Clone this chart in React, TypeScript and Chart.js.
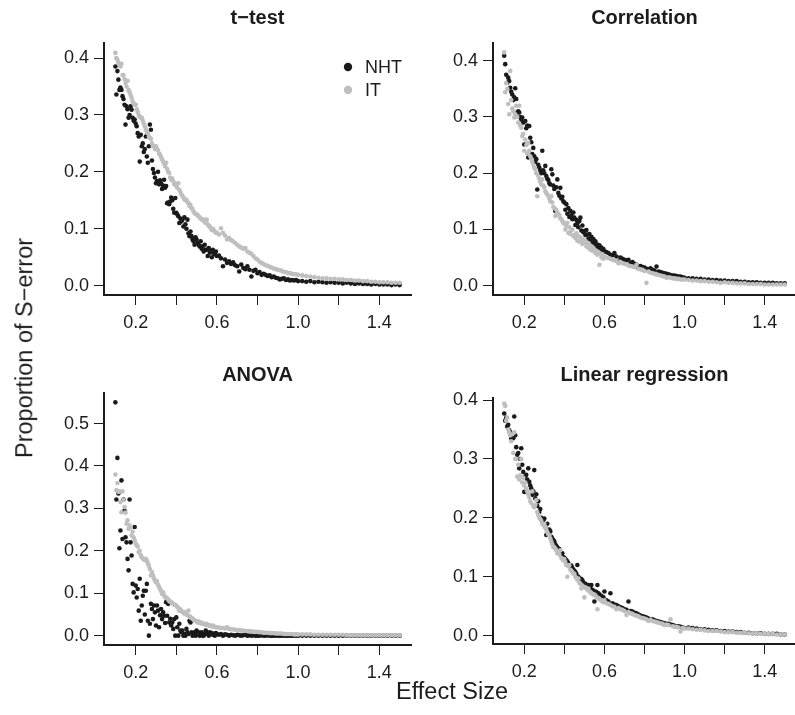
import React, { useEffect, useRef } from "react";
import { Chart, registerables } from "chart.js";

Chart.register(...registerables);

// Effect size grid (x values)
const effectSize = [
  0.1, 0.105, 0.11, 0.115, 0.12, 0.125, 0.13, 0.135, 0.14, 0.145,
  0.15, 0.155, 0.16, 0.165, 0.17, 0.175, 0.18, 0.185, 0.19, 0.195,
  0.2, 0.205, 0.21, 0.215, 0.22, 0.225, 0.23, 0.235, 0.24, 0.245,
  0.25, 0.255, 0.26, 0.265, 0.27, 0.275, 0.28, 0.285, 0.29, 0.295,
  0.3, 0.305, 0.31, 0.315, 0.32, 0.325, 0.33, 0.335, 0.34, 0.345,
  0.35, 0.355, 0.36, 0.365, 0.37, 0.375, 0.38, 0.385, 0.39, 0.395,
  0.4, 0.405, 0.41, 0.415, 0.42, 0.425, 0.43, 0.435, 0.44, 0.445,
  0.45, 0.455, 0.46, 0.465, 0.47, 0.475, 0.48, 0.485, 0.49, 0.495,
  0.5, 0.505, 0.51, 0.515, 0.52, 0.525, 0.53, 0.535, 0.54, 0.545,
  0.55, 0.555, 0.56, 0.565, 0.57, 0.575, 0.58, 0.585, 0.59, 0.595,
  0.6,
  0.61, 0.62, 0.63, 0.64, 0.65, 0.66, 0.67, 0.68, 0.69, 0.7,
  0.71, 0.72, 0.73, 0.74, 0.75, 0.76, 0.77, 0.78, 0.79, 0.8,
  0.81, 0.82, 0.83, 0.84, 0.85, 0.86, 0.87, 0.88, 0.89, 0.9,
  0.91, 0.92, 0.93, 0.94, 0.95, 0.96, 0.97, 0.98, 0.99, 1.0,
  1.02, 1.04, 1.06, 1.08, 1.1, 1.12, 1.14, 1.16, 1.18, 1.2,
  1.22, 1.24, 1.26, 1.28, 1.3, 1.32, 1.34, 1.36, 1.38, 1.4,
  1.42, 1.44, 1.46, 1.48, 1.5,
];

// t-test
const tTestNHT = [
  0.385, 0.336, 0.377, 0.362, 0.344, 0.348, 0.344, 0.333, 0.328, 0.318,
  0.283, 0.315, 0.31, 0.295, 0.3, 0.315, 0.309, 0.295, 0.29, 0.292,
  0.285, 0.28, 0.268, 0.262, 0.218, 0.265, 0.245, 0.25, 0.235, 0.24,
  0.262, 0.227, 0.216, 0.245, 0.283, 0.274, 0.22, 0.205, 0.198, 0.19,
  0.18, 0.184, 0.2, 0.178, 0.185, 0.18, 0.17, 0.176, 0.186, 0.172,
  0.175, 0.145, 0.146, 0.143, 0.148, 0.155, 0.15, 0.135, 0.128, 0.154,
  0.128, 0.125, 0.122, 0.11, 0.118, 0.113, 0.116, 0.104, 0.12, 0.108,
  0.1, 0.116, 0.092, 0.087, 0.095, 0.087, 0.081, 0.078, 0.072, 0.085,
  0.081, 0.075, 0.072, 0.069, 0.078, 0.065, 0.069, 0.06, 0.072, 0.063,
  0.063, 0.052, 0.066, 0.058, 0.061, 0.05, 0.063, 0.057, 0.055, 0.06,
  0.052,
  0.053, 0.048, 0.034, 0.046, 0.04, 0.043, 0.038, 0.041, 0.036, 0.034,
  0.025, 0.037, 0.031, 0.029, 0.034, 0.028, 0.016, 0.026, 0.028, 0.022,
  0.024, 0.019, 0.021, 0.019, 0.017, 0.018, 0.015, 0.016, 0.014, 0.013,
  0.011, 0.012, 0.013, 0.01, 0.011, 0.009, 0.01, 0.009, 0.01, 0.008,
  0.008, 0.007, 0.008, 0.006, 0.007, 0.006, 0.005, 0.006, 0.005, 0.005,
  0.004, 0.005, 0.004, 0.003, 0.004, 0.003, 0.003, 0.002, 0.003, 0.002,
  0.002, 0.002, 0.001, 0.002, 0.001,
];
const tTestIT = [
  0.409, 0.4, 0.397, 0.392, 0.39, 0.385, 0.39, 0.37, 0.37, 0.363,
  0.356, 0.35, 0.36, 0.344, 0.34, 0.335, 0.33, 0.324, 0.32, 0.318,
  0.318, 0.31, 0.305, 0.3, 0.297, 0.295, 0.295, 0.29, 0.285, 0.28,
  0.275, 0.27, 0.268, 0.262, 0.26, 0.258, 0.25, 0.245, 0.245, 0.24,
  0.245, 0.24, 0.238, 0.232, 0.23, 0.226, 0.222, 0.218, 0.215, 0.21,
  0.216, 0.205, 0.2, 0.198, 0.19, 0.186, 0.188, 0.183, 0.178, 0.18,
  0.175, 0.172, 0.18, 0.168, 0.165, 0.16, 0.158, 0.155, 0.152, 0.15,
  0.151, 0.147, 0.145, 0.14, 0.142, 0.136, 0.135, 0.13, 0.128, 0.126,
  0.125, 0.124, 0.122, 0.12, 0.118, 0.117, 0.115, 0.116, 0.112, 0.11,
  0.116, 0.108, 0.105, 0.104, 0.101, 0.098, 0.1, 0.097, 0.095, 0.093,
  0.093,
  0.09, 0.101, 0.093, 0.088, 0.081, 0.084, 0.08, 0.078, 0.075, 0.072,
  0.069, 0.067, 0.065, 0.066, 0.06, 0.058, 0.056, 0.052, 0.048, 0.046,
  0.042, 0.04, 0.038, 0.036, 0.035, 0.033, 0.032, 0.03, 0.029, 0.028,
  0.027, 0.026, 0.024, 0.024, 0.022, 0.022, 0.021, 0.02, 0.02, 0.019,
  0.018, 0.017, 0.016, 0.015, 0.014, 0.013, 0.013, 0.012, 0.012, 0.011,
  0.011, 0.01, 0.01, 0.009, 0.009, 0.008, 0.008, 0.007, 0.007, 0.006,
  0.006, 0.006, 0.005, 0.005, 0.005,
];

// Correlation
const corrNHT = [
  0.409, 0.394, 0.375, 0.361, 0.37, 0.364, 0.352, 0.345, 0.34, 0.33,
  0.335, 0.351, 0.332, 0.308, 0.31, 0.308, 0.3, 0.295, 0.299, 0.29,
  0.251, 0.293, 0.28, 0.285, 0.228, 0.284, 0.263, 0.255, 0.234, 0.245,
  0.23, 0.22, 0.225, 0.171, 0.215, 0.21, 0.205, 0.2, 0.24, 0.205,
  0.2, 0.213, 0.195, 0.19, 0.188, 0.182, 0.18, 0.207, 0.198, 0.178,
  0.172, 0.133, 0.175, 0.189, 0.165, 0.16, 0.174, 0.155, 0.158, 0.15,
  0.148, 0.135, 0.145, 0.128, 0.138, 0.122, 0.133, 0.125, 0.118, 0.13,
  0.121, 0.108, 0.117, 0.111, 0.104, 0.115, 0.121, 0.098, 0.107, 0.095,
  0.097, 0.09, 0.099, 0.091, 0.084, 0.092, 0.082, 0.087, 0.076, 0.083,
  0.075, 0.079, 0.07, 0.073, 0.066, 0.072, 0.064, 0.068, 0.06, 0.065,
  0.061,
  0.06, 0.058, 0.055, 0.054, 0.058, 0.052, 0.043, 0.05, 0.048, 0.046,
  0.045, 0.046, 0.04, 0.042, 0.039, 0.037, 0.031, 0.035, 0.033, 0.032,
  0.03, 0.029, 0.031, 0.028, 0.027, 0.034, 0.025, 0.024, 0.023, 0.022,
  0.021, 0.02, 0.019, 0.018, 0.018, 0.017, 0.016, 0.016, 0.015, 0.014,
  0.013, 0.013, 0.012, 0.012, 0.011, 0.011, 0.01, 0.01, 0.009, 0.009,
  0.008, 0.008, 0.008, 0.007, 0.007, 0.006, 0.006, 0.006, 0.005, 0.005,
  0.005, 0.005, 0.004, 0.004, 0.004,
];
const corrIT = [
  0.415, 0.344, 0.36, 0.35, 0.323, 0.305, 0.382, 0.33, 0.315, 0.31,
  0.299, 0.305, 0.32, 0.3, 0.29, 0.32, 0.285, 0.281, 0.266, 0.27,
  0.24, 0.26, 0.25, 0.235, 0.254, 0.24, 0.23, 0.225, 0.22, 0.215,
  0.21, 0.207, 0.2, 0.159, 0.195, 0.19, 0.185, 0.18, 0.189, 0.178,
  0.175, 0.168, 0.165, 0.162, 0.16, 0.155, 0.15, 0.159, 0.148, 0.14,
  0.138, 0.124, 0.135, 0.13, 0.128, 0.125, 0.12, 0.118, 0.115, 0.112,
  0.11, 0.1, 0.106, 0.112, 0.094, 0.104, 0.092, 0.098, 0.1, 0.088,
  0.09, 0.085, 0.093, 0.08, 0.088, 0.078, 0.086, 0.081, 0.074, 0.082,
  0.076, 0.08, 0.07, 0.075, 0.067, 0.073, 0.064, 0.07, 0.062, 0.067,
  0.064, 0.058, 0.062, 0.055, 0.06, 0.037, 0.057, 0.05, 0.056, 0.048,
  0.052,
  0.05, 0.049, 0.048, 0.046, 0.045, 0.044, 0.04, 0.042, 0.04, 0.039,
  0.038, 0.036, 0.035, 0.034, 0.033, 0.037, 0.03, 0.029, 0.028, 0.026,
  0.005, 0.025, 0.023, 0.022, 0.021, 0.02, 0.019, 0.018, 0.017, 0.016,
  0.014, 0.015, 0.014, 0.013, 0.013, 0.012, 0.012, 0.011, 0.011, 0.011,
  0.01, 0.009, 0.009, 0.008, 0.008, 0.007, 0.007, 0.006, 0.005, 0.006,
  0.005, 0.005, 0.004, 0.004, 0.004, 0.003, 0.003, 0.003, 0.003, 0.002,
  0.002, 0.002, 0.002, 0.002, 0.002,
];

// ANOVA
const anovaNHT = [
  0.55, 0.321, 0.419, 0.335, 0.206, 0.248, 0.366, 0.228, 0.321, 0.295,
  0.232, 0.22, 0.181, 0.154, 0.321, 0.22, 0.189, 0.122, 0.102, 0.256,
  0.118, 0.09, 0.11, 0.059, 0.134, 0.035, 0.071, 0.094, 0.106, 0.05,
  0.106, 0.122, 0.035, 0.0, 0.028, 0.075, 0.063, 0.039, 0.071, 0.055,
  0.024, 0.071, 0.059, 0.02, 0.048, 0.063, 0.039, 0.055, 0.047, 0.03,
  0.079, 0.047, 0.075, 0.031, 0.04, 0.024, 0.031, 0.016, 0.039, 0.0,
  0.043, 0.02, 0.0, 0.028, 0.012, 0.008, 0.012, 0.0, 0.004, 0.0,
  0.016, 0.008, 0.004, 0.035, 0.031, 0.008, 0.0, 0.004, 0.008, 0.0,
  0.012, 0.004, 0.008, 0.0, 0.004, 0.008, 0.0, 0.0, 0.004, 0.012,
  0.008, 0.004, 0.0, 0.008, 0.004, 0.006, 0.002, 0.004, 0.0, 0.006,
  0.004,
  0.002, 0.004, 0.0, 0.003, 0.002, 0.0, 0.002, 0.001, 0.0, 0.002,
  0.001, 0.0, 0.001, 0.002, 0.0, 0.001, 0.0, 0.001, 0.0, 0.0,
  0.0, 0.001, 0.0, 0.0, 0.001, 0.0, 0.0, 0.0, 0.0, 0.0,
  0.0, 0.0, 0.0, 0.0, 0.0, 0.0, 0.0, 0.0, 0.0, 0.0,
  0.0, 0.0, 0.0, 0.0, 0.0, 0.0, 0.0, 0.0, 0.0, 0.0,
  0.0, 0.0, 0.0, 0.0, 0.0, 0.0, 0.0, 0.0, 0.0, 0.0,
  0.0, 0.0, 0.0, 0.0, 0.0,
];
const anovaIT = [
  0.38, 0.343, 0.36, 0.339, 0.34, 0.315, 0.291, 0.34, 0.32, 0.303,
  0.29, 0.264, 0.272, 0.252, 0.26, 0.255, 0.236, 0.245, 0.232, 0.225,
  0.217, 0.213, 0.21, 0.197, 0.2, 0.19, 0.185, 0.182, 0.18, 0.178,
  0.181, 0.177, 0.17, 0.165, 0.157, 0.142, 0.15, 0.142, 0.135, 0.13,
  0.126, 0.128, 0.12, 0.115, 0.11, 0.105, 0.098, 0.102, 0.095, 0.09,
  0.09, 0.088, 0.085, 0.082, 0.08, 0.079, 0.077, 0.075, 0.073, 0.072,
  0.071, 0.068, 0.065, 0.059, 0.062, 0.058, 0.056, 0.055, 0.052, 0.055,
  0.05, 0.048, 0.059, 0.046, 0.043, 0.042, 0.04, 0.038, 0.036, 0.035,
  0.034, 0.031, 0.033, 0.03, 0.029, 0.031, 0.028, 0.028, 0.027, 0.026,
  0.028, 0.025, 0.024, 0.024, 0.023, 0.022, 0.024, 0.021, 0.021, 0.02,
  0.02,
  0.019, 0.018, 0.018, 0.017, 0.02, 0.016, 0.015, 0.015, 0.014, 0.013,
  0.013, 0.012, 0.012, 0.011, 0.011, 0.01, 0.01, 0.009, 0.009, 0.009,
  0.008, 0.008, 0.007, 0.007, 0.007, 0.006, 0.006, 0.006, 0.005, 0.005,
  0.005, 0.005, 0.004, 0.004, 0.004, 0.004, 0.004, 0.003, 0.003, 0.003,
  0.003, 0.003, 0.003, 0.002, 0.002, 0.002, 0.002, 0.002, 0.002, 0.002,
  0.002, 0.001, 0.001, 0.001, 0.001, 0.001, 0.001, 0.001, 0.001, 0.001,
  0.001, 0.001, 0.001, 0.001, 0.001,
];

// Linear regression
const regNHT = [
  0.377, 0.365, 0.37, 0.355, 0.358, 0.349, 0.345, 0.335, 0.338, 0.335,
  0.372, 0.34, 0.32, 0.307, 0.31, 0.284, 0.3, 0.318, 0.29, 0.278,
  0.244, 0.27, 0.273, 0.265, 0.284, 0.261, 0.255, 0.25, 0.239, 0.245,
  0.281, 0.233, 0.24, 0.22, 0.228, 0.21, 0.215, 0.2, 0.193, 0.196,
  0.199, 0.185, 0.171, 0.19, 0.175, 0.18, 0.177, 0.168, 0.165, 0.162,
  0.16, 0.155, 0.152, 0.15, 0.143, 0.147, 0.14, 0.137, 0.14, 0.133,
  0.132, 0.13, 0.128, 0.126, 0.123, 0.12, 0.117, 0.119, 0.115, 0.112,
  0.11, 0.108, 0.105, 0.12, 0.1, 0.098, 0.092, 0.096, 0.094, 0.09,
  0.086, 0.088, 0.085, 0.083, 0.086, 0.082, 0.08, 0.086, 0.078, 0.076,
  0.058, 0.075, 0.074, 0.086, 0.072, 0.07, 0.068, 0.067, 0.066, 0.065,
  0.075,
  0.06, 0.058, 0.072, 0.055, 0.053, 0.052, 0.05, 0.048, 0.047, 0.045,
  0.044, 0.058, 0.042, 0.041, 0.039, 0.038, 0.036, 0.034, 0.033, 0.032,
  0.031, 0.029, 0.027, 0.028, 0.026, 0.025, 0.024, 0.023, 0.022, 0.021,
  0.02, 0.02, 0.019, 0.018, 0.017, 0.016, 0.016, 0.015, 0.014, 0.013,
  0.014, 0.013, 0.012, 0.011, 0.011, 0.01, 0.009, 0.009, 0.008, 0.008,
  0.007, 0.007, 0.006, 0.006, 0.005, 0.005, 0.004, 0.004, 0.004, 0.003,
  0.003, 0.003, 0.003, 0.002, 0.002,
];
const regIT = [
  0.394, 0.39, 0.365, 0.37, 0.35, 0.345, 0.34, 0.33, 0.342, 0.31,
  0.345, 0.3, 0.3, 0.27, 0.29, 0.265, 0.272, 0.3, 0.26, 0.268,
  0.255, 0.26, 0.25, 0.245, 0.24, 0.235, 0.228, 0.225, 0.245, 0.22,
  0.218, 0.222, 0.23, 0.21, 0.205, 0.2, 0.198, 0.195, 0.19, 0.188,
  0.19, 0.185, 0.18, 0.176, 0.172, 0.17, 0.165, 0.16, 0.155, 0.15,
  0.15, 0.148, 0.145, 0.14, 0.142, 0.138, 0.145, 0.132, 0.13, 0.128,
  0.13, 0.125, 0.12, 0.1, 0.118, 0.12, 0.112, 0.11, 0.108, 0.105,
  0.105, 0.1, 0.098, 0.095, 0.097, 0.09, 0.088, 0.08, 0.085, 0.083,
  0.065, 0.082, 0.08, 0.078, 0.08, 0.075, 0.074, 0.072, 0.071, 0.07,
  0.07, 0.068, 0.066, 0.045, 0.064, 0.062, 0.061, 0.06, 0.058, 0.057,
  0.06,
  0.055, 0.054, 0.052, 0.05, 0.049, 0.045, 0.047, 0.045, 0.044, 0.042,
  0.035, 0.04, 0.038, 0.037, 0.035, 0.034, 0.033, 0.031, 0.03, 0.029,
  0.028, 0.025, 0.027, 0.025, 0.024, 0.023, 0.022, 0.021, 0.02, 0.018,
  0.019, 0.018, 0.028, 0.016, 0.015, 0.015, 0.014, 0.007, 0.013, 0.012,
  0.012, 0.011, 0.01, 0.01, 0.009, 0.008, 0.008, 0.008, 0.007, 0.006,
  0.006, 0.006, 0.005, 0.005, 0.005, 0.004, 0.004, 0.004, 0.003, 0.003,
  0.003, 0.003, 0.002, 0.002, 0.002,
];

const xTicks = [0.2, 0.4, 0.6, 0.8, 1.0, 1.2, 1.4];
const xLabeledTicks = [0.2, 0.6, 1.0, 1.4];
const yTicksStd = [0, 0.1, 0.2, 0.3, 0.4];
const yTicksAnova = [0, 0.1, 0.2, 0.3, 0.4, 0.5];
const seriesLabels = ["NHT", "IT"];

const FONT = "'Liberation Sans', Arial, Helvetica, sans-serif";
const INK = "#1c1c1c";
const NHT_COLOR = "#1a1a1a";
const IT_COLOR = "#bfbfbf";

const legendPlugin = {
  id: "panelLegend",
  afterDatasetsDraw(chart: any, _args: any, opts: any) {
    if (!opts || !opts.show) return;
    const ctx = chart.ctx;
    const a = chart.chartArea;
    ctx.save();
    ctx.font = `18px ${FONT}`;
    ctx.textBaseline = "middle";
    ctx.textAlign = "left";
    chart.data.datasets.forEach((ds: any, i: number) => {
      const y = a.top + opts.offsetY + i * 23;
      ctx.beginPath();
      ctx.fillStyle = ds.backgroundColor;
      ctx.arc(a.left + opts.offsetX, y, 4.2, 0, Math.PI * 2);
      ctx.fill();
      ctx.fillStyle = INK;
      ctx.fillText(ds.label, a.left + opts.offsetX + 17, y + 1);
    });
    ctx.restore();
  },
};

type PanelProps = {
  title: string;
  nht: number[];
  it: number[];
  yMin: number;
  yMax: number;
  yTicks: number[];
  left: number;
  top: number;
  width: number;
  height: number;
  yAxisWidth: number;
  xAxisHeight: number;
  padRight: number;
  titleTop: number;
  titleBottom: number;
  legend?: boolean;
};

function Panel(p: PanelProps) {
  const ref = useRef<HTMLCanvasElement | null>(null);
  useEffect(() => {
    if (!ref.current) return;
    const chart = new Chart(ref.current, {
      type: "scatter",
      data: {
        datasets: [
          {
            label: seriesLabels[0],
            data: effectSize.map((x, i) => ({ x, y: p.nht[i] })),
            backgroundColor: NHT_COLOR,
            borderWidth: 0,
            pointRadius: 2.3,
            order: 1,
          },
          {
            label: seriesLabels[1],
            data: effectSize.map((x, i) => ({ x, y: p.it[i] })),
            backgroundColor: IT_COLOR,
            borderWidth: 0,
            pointRadius: 2.3,
            order: 0,
          },
        ],
      },
      options: {
        animation: false,
        responsive: false,
        events: [],
        layout: { padding: { left: 0, right: p.padRight, top: 0, bottom: 0 } },
        plugins: {
          legend: { display: false },
          tooltip: { enabled: false },
          title: {
            display: true,
            text: p.title,
            fullSize: false,
            color: INK,
            font: { family: FONT, size: 20, weight: "bold", lineHeight: 1.2 },
            padding: { top: p.titleTop, bottom: p.titleBottom },
          },
          panelLegend: { show: !!p.legend, offsetX: 244, offsetY: 24 },
        } as any,
        scales: {
          x: {
            type: "linear",
            min: 0.044,
            max: 1.556,
            afterBuildTicks: (axis: any) => {
              axis.ticks = xTicks.map((v) => ({ value: v }));
            },
            afterFit: (s: any) => {
              s.height = p.xAxisHeight;
            },
            grid: {
              display: true,
              drawOnChartArea: false,
              drawTicks: true,
              tickLength: 10,
              color: INK,
              lineWidth: 1,
            },
            border: { display: true, color: INK, width: 2 },
            ticks: {
              autoSkip: false,
              maxRotation: 0,
              padding: 7,
              color: INK,
              font: { family: FONT, size: 18 },
              callback: (v: any) =>
                xLabeledTicks.some((t) => Math.abs(t - Number(v)) < 1e-9)
                  ? Number(v).toFixed(1)
                  : "",
            },
          },
          y: {
            type: "linear",
            min: p.yMin,
            max: p.yMax,
            afterBuildTicks: (axis: any) => {
              axis.ticks = p.yTicks.map((v) => ({ value: v }));
            },
            afterFit: (s: any) => {
              s.width = p.yAxisWidth;
            },
            grid: {
              display: true,
              drawOnChartArea: false,
              drawTicks: true,
              tickLength: 10,
              color: INK,
              lineWidth: 1,
            },
            border: { display: true, color: INK, width: 2 },
            ticks: {
              autoSkip: false,
              padding: 5,
              color: INK,
              font: { family: FONT, size: 18 },
              callback: (v: any) => Number(v).toFixed(1),
            },
          },
        },
      } as any,
      plugins: [legendPlugin],
    });
    return () => chart.destroy();
  }, []);
  return (
    <canvas
      ref={ref}
      width={p.width}
      height={p.height}
      style={{
        position: "absolute",
        left: p.left,
        top: p.top,
        width: p.width,
        height: p.height,
        display: "block",
      }}
    />
  );
}

export default function App() {
  return (
    <div
      style={{
        position: "absolute",
        left: 0,
        top: 0,
        width: 795,
        height: 715,
        overflow: "hidden",
        background: "#ffffff",
        fontFamily: FONT,
        color: INK,
      }}
    >
      <Panel
        title="t−test"
        nht={tTestNHT}
        it={tTestIT}
        yMin={-0.0164}
        yMax={0.4264}
        yTicks={yTicksStd}
        left={0}
        top={0}
        width={415}
        height={340}
        yAxisWidth={104}
        xAxisHeight={45}
        padRight={3}
        titleTop={6}
        titleBottom={13}
        legend
      />
      <Panel
        title="Correlation"
        nht={corrNHT}
        it={corrIT}
        yMin={-0.0166}
        yMax={0.4316}
        yTicks={yTicksStd}
        left={415}
        top={0}
        width={385}
        height={340}
        yAxisWidth={78}
        xAxisHeight={45}
        padRight={0}
        titleTop={6}
        titleBottom={13}
      />
      <Panel
        title="ANOVA"
        nht={anovaNHT}
        it={anovaIT}
        yMin={-0.022}
        yMax={0.572}
        yTicks={yTicksAnova}
        left={0}
        top={350}
        width={415}
        height={340}
        yAxisWidth={104}
        xAxisHeight={45}
        padRight={3}
        titleTop={13}
        titleBottom={6}
      />
      <Panel
        title="Linear regression"
        nht={regNHT}
        it={regIT}
        yMin={-0.0141}
        yMax={0.4034}
        yTicks={yTicksStd}
        left={415}
        top={350}
        width={385}
        height={340}
        yAxisWidth={78}
        xAxisHeight={46}
        padRight={0}
        titleTop={13}
        titleBottom={11}
      />
      <div
        style={{
          position: "absolute",
          left: 25,
          top: 348,
          transform: "translate(-50%, -50%) rotate(-90deg)",
          whiteSpace: "nowrap",
          fontSize: 23.5,
          lineHeight: 1,
        }}
      >
        Proportion of S−error
      </div>
      <div
        style={{
          position: "absolute",
          left: 452,
          top: 692,
          transform: "translate(-50%, -50%)",
          whiteSpace: "nowrap",
          fontSize: 23.5,
          lineHeight: 1,
        }}
      >
        Effect Size
      </div>
    </div>
  );
}
